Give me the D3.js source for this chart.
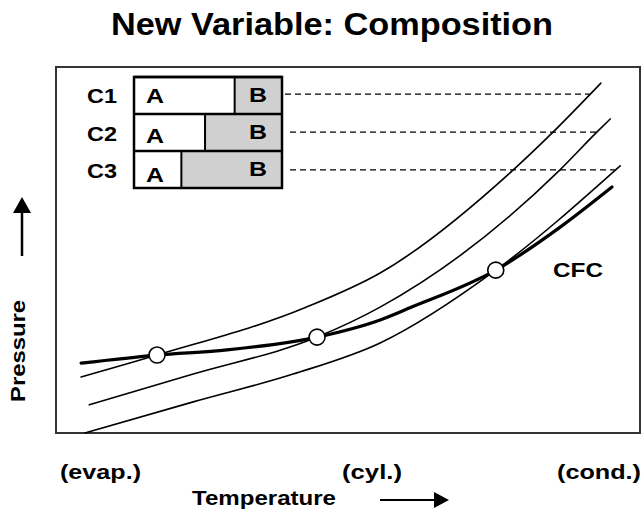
<!DOCTYPE html>
<html>
<head>
<meta charset="utf-8">
<script src="https://cdn.jsdelivr.net/npm/d3@7"></script>
<style>
  html, body { margin: 0; padding: 0; background: #fff; }
  svg { display: block; }
  text { font-family: "Liberation Sans", Arial, Helvetica, sans-serif; font-weight: bold; fill: #000; }
</style>
</head>
<body>
<script>
// Composition cases: share of component A in each blend
const compositions = ["C1", "C2", "C3"];
const fractionA = [0.68, 0.48, 0.32];
const componentLabels = ["A", "B"];

// Temperature stations along the cycle
const stateLabels = ["(evap.)", "(cyl.)", "(cond.)"];

// Pressure–temperature curves (relative units, 0–100)
const tempC1 = [4.3, 17.3, 42.6, 55.5, 78.3, 85.1, 93.3];
const presC1 = [15.3, 21.3, 34.2, 43.7, 71.9, 82.2, 95.6];
const tempC2 = [5.7, 23.5, 44.7, 55.5, 86.3, 92.6, 94.9];
const presC2 = [7.7, 16.1, 26.2, 34.4, 71.9, 82.2, 85.8];
const tempC3 = [5.0, 23.5, 40.6, 55.5, 75.3, 96.6];
const presC3 = [0.0, 8.5, 16.1, 24.6, 44.5, 73.0];
const tempCFC = [4.3, 17.3, 29.3, 44.7, 55.5, 60.6, 75.3, 86.8, 95.2];
const presCFC = [19.1, 21.3, 22.7, 26.2, 30.9, 34.2, 44.5, 56.8, 67.2];

// Matching points where each blend meets the CFC curve
const matchTemp = [17.3, 44.7, 75.3];
const matchPres = [21.3, 26.2, 44.5];

// Condensing pressure of each blend and where it is reached
const condPres = [92.6, 82.2, 71.9];
const condTemp = [91.4, 92.6, 95.7];

const W = 642, H = 509;
const frame = { left: 56, top: 67, right: 640, bottom: 433 };

const svg = d3.select("body").append("svg")
  .attr("width", W).attr("height", H);

const x = d3.scaleLinear([0, 100], [frame.left, frame.right]);
const y = d3.scaleLinear([0, 100], [frame.bottom, frame.top]);

// Title
svg.append("text")
  .attr("x", 111).attr("y", 35)
  .attr("font-size", 31)
  .attr("textLength", 442).attr("lengthAdjust", "spacingAndGlyphs")
  .text("New Variable: Composition");

// Plot frame
svg.append("rect")
  .attr("x", frame.left).attr("y", frame.top)
  .attr("width", frame.right - frame.left).attr("height", frame.bottom - frame.top)
  .attr("fill", "#fff").attr("stroke", "#333").attr("stroke-width", 2);

// Composition bars
const boxX = d3.scaleLinear([0, 1], [134, 282]);
const rowY = d3.scaleBand(compositions, [77, 188]);

const rows = svg.append("g").selectAll("g")
  .data(compositions.map((c, i) => ({ c, a: fractionA[i], i })))
  .join("g");

rows.append("rect")
  .attr("x", boxX(0)).attr("y", d => rowY(d.c))
  .attr("width", boxX(1) - boxX(0)).attr("height", rowY.bandwidth())
  .attr("fill", "#d0d0d0");
rows.append("rect")
  .attr("x", boxX(0)).attr("y", d => rowY(d.c))
  .attr("width", d => boxX(d.a) - boxX(0)).attr("height", rowY.bandwidth())
  .attr("fill", "#fff");
rows.append("line")
  .attr("x1", d => boxX(d.a)).attr("x2", d => boxX(d.a))
  .attr("y1", d => rowY(d.c)).attr("y2", d => rowY(d.c) + rowY.bandwidth())
  .attr("stroke", "#000").attr("stroke-width", 2);
rows.append("line")
  .attr("x1", boxX(0)).attr("x2", boxX(1))
  .attr("y1", d => rowY(d.c)).attr("y2", d => rowY(d.c))
  .attr("stroke", "#000").attr("stroke-width", 2.5);

svg.append("rect")
  .attr("x", boxX(0)).attr("y", rowY.range()[0])
  .attr("width", boxX(1) - boxX(0)).attr("height", rowY.range()[1] - rowY.range()[0])
  .attr("fill", "none").attr("stroke", "#000").attr("stroke-width", 2.5);

rows.append("text")
  .attr("x", 87).attr("y", d => rowY(d.c) + 26 + d.i * 0.5)
  .attr("font-size", 21).attr("textLength", 30).attr("lengthAdjust", "spacingAndGlyphs")
  .text(d => d.c);
rows.append("text")
  .attr("x", 146).attr("y", d => rowY(d.c) + 26 + d.i * 2.5)
  .attr("font-size", 21).attr("textLength", 18).attr("lengthAdjust", "spacingAndGlyphs")
  .text(componentLabels[0]);
rows.append("text")
  .attr("x", 249).attr("y", d => rowY(d.c) + 25)
  .attr("font-size", 21).attr("textLength", 18).attr("lengthAdjust", "spacingAndGlyphs")
  .text(componentLabels[1]);

// Dashed guides from each bar to its condensing pressure
svg.append("g").selectAll("line")
  .data(compositions.map((c, i) => ({ i })))
  .join("line")
  .attr("x1", d => d.i === 0 ? boxX(1) + 3 : boxX(1) + 8)
  .attr("x2", d => x(condTemp[d.i]))
  .attr("y1", d => y(condPres[d.i])).attr("y2", d => y(condPres[d.i]))
  .attr("stroke", "#000").attr("stroke-width", 1.4)
  .attr("stroke-dasharray", "6,4");

// Curves
const line = d3.line()
  .x(d => x(d[0])).y(d => y(d[1]))
  .curve(d3.curveMonotoneX);

const series = [
  { t: tempC1, p: presC1, w: 1.6 },
  { t: tempC2, p: presC2, w: 1.6 },
  { t: tempC3, p: presC3, w: 1.6 },
  { t: tempCFC, p: presCFC, w: 3.2 }
];
svg.append("g").selectAll("path")
  .data(series)
  .join("path")
  .attr("d", s => line(s.t.map((t, i) => [t, s.p[i]])))
  .attr("fill", "none").attr("stroke", "#000")
  .attr("stroke-width", s => s.w)
  .attr("stroke-linecap", "round");

svg.append("g").selectAll("circle")
  .data(matchTemp.map((t, i) => [t, matchPres[i]]))
  .join("circle")
  .attr("cx", d => x(d[0])).attr("cy", d => y(d[1]))
  .attr("r", 8)
  .attr("fill", "#fff").attr("stroke", "#000").attr("stroke-width", 1.6);

svg.append("text")
  .attr("x", 553).attr("y", 277)
  .attr("font-size", 21).attr("textLength", 50).attr("lengthAdjust", "spacingAndGlyphs")
  .text("CFC");

// Temperature station labels
const stationX = [60, 342, 557];
const stationW = [81, 60, 84];
svg.append("g").selectAll("text")
  .data(stateLabels)
  .join("text")
  .attr("x", (d, i) => stationX[i]).attr("y", 479)
  .attr("font-size", 21)
  .attr("textLength", (d, i) => stationW[i]).attr("lengthAdjust", "spacingAndGlyphs")
  .text(d => d);

// Axis titles with arrows
svg.append("text")
  .attr("x", 192).attr("y", 505)
  .attr("font-size", 21).attr("textLength", 144).attr("lengthAdjust", "spacingAndGlyphs")
  .text("Temperature");
svg.append("line")
  .attr("x1", 380).attr("x2", 436).attr("y1", 500).attr("y2", 500)
  .attr("stroke", "#000").attr("stroke-width", 2);
svg.append("path")
  .attr("d", "M434,492 L449,500 L434,508 Z").attr("fill", "#000");

svg.append("text")
  .attr("transform", "translate(25,402) rotate(-90)")
  .attr("font-size", 21).attr("textLength", 102).attr("lengthAdjust", "spacingAndGlyphs")
  .text("Pressure");
svg.append("line")
  .attr("x1", 22).attr("x2", 22).attr("y1", 256).attr("y2", 210)
  .attr("stroke", "#000").attr("stroke-width", 2.5);
svg.append("path")
  .attr("d", "M13,213 L22,197 L31,213 Z").attr("fill", "#000");
</script>
</body>
</html>
